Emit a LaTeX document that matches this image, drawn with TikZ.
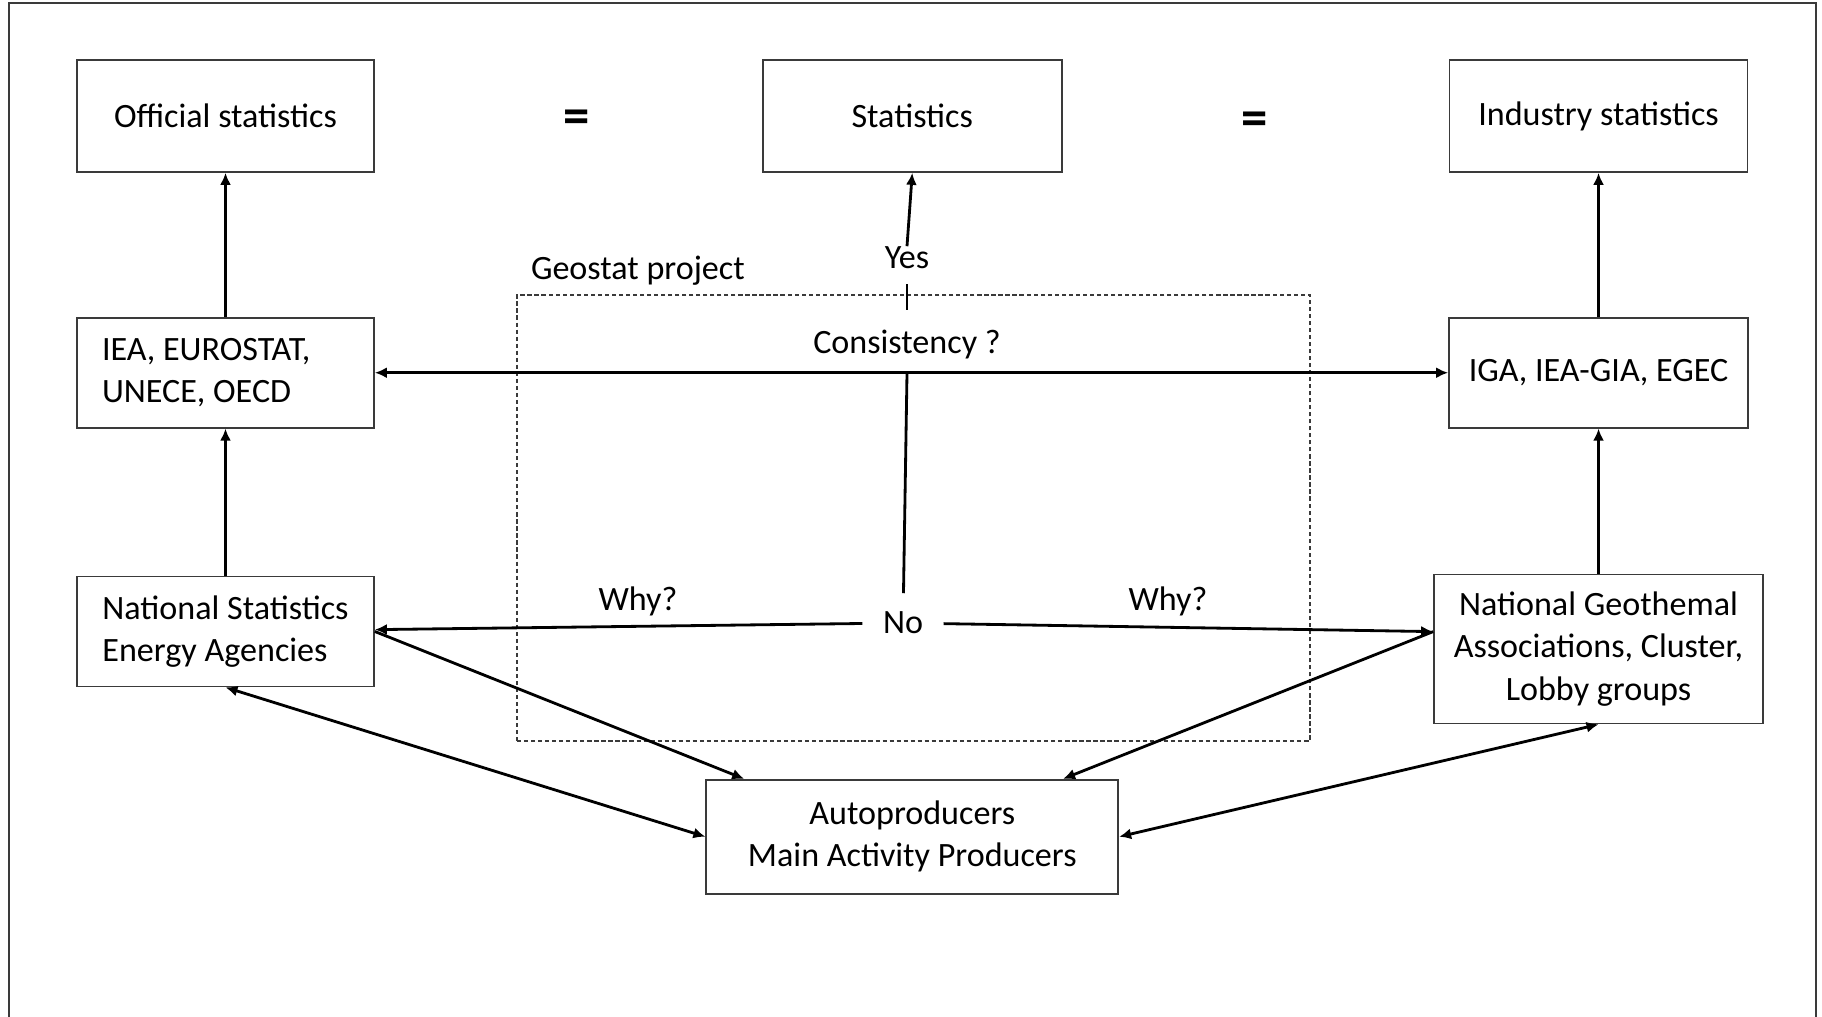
\documentclass[tikz,border=0pt]{standalone}
\usepackage{fontspec}
\setmainfont{Carlito}
\usetikzlibrary{%
  arrows.meta, positioning, shapes
}
\usepackage{xcolor}
\tikzstyle{sbox} = [%
  rectangle,
  draw=boxGrey,
  line width=0.5pt,
  minimum width=2.97cm,
  minimum height=1.12cm,
  align=center,
  inner sep=2pt,
  font=\fontsize{9.7}{12}\selectfont
]
\definecolor{boxGrey}{HTML}{3A3A3A}

\begin{document}
\frenchspacing
\begin{tikzpicture}[%
  link/.style={%
    -{Latex[length=1.2mm,width=1.1mm]},
    line width=0.8pt
  },
  twoway/.style={%
    {Latex[length=1.2mm,width=1.1mm]}-{Latex[length=1.2mm,width=1.1mm]},
    line width=0.8pt
  },
  every node/.style={%
    font=\fontsize{9.7}{12}\selectfont,
    text=black
  },
  lbl/.style={inner sep=1pt}
]
  \useasboundingbox (0,0) rectangle (18.22,10.17);
  \draw[boxGrey,line width=0.6pt] (0.09,-0.1) -- (0.09,10.14) -- (18.16,10.14) -- (18.16,-0.1);

  % Project frame
  \node[draw=boxGrey,dash pattern=on 1.2pt off 0.8pt,line width=0.4pt,minimum width=7.93cm,minimum height=4.46cm] (proj) at (9.135,4.99) {};
  \node[anchor=south west,inner xsep=0.14cm,inner ysep=0.08cm] (geostat) at (proj.north west) {Geostat project};

  % Nodes
  \node[sbox] (off) at (2.255,9.01) {Official statistics};
  \node[sbox,right=3.87cm of off,minimum width=2.99cm] (stat) {Statistics};
  \node[sbox,right=3.86cm of stat,minimum width=2.98cm] (ind) {Industry statistics};
  \node[sbox,below=1.44cm of off,align=flush left,text width=2.47cm,inner xsep=0.25cm,minimum height=1.10cm] (iea) {IEA, EUROSTAT,\\UNECE, OECD};
  \node[sbox,below=1.47cm of iea,align=left,minimum height=1.10cm] (nat) {National Statistics\\Energy Agencies};
  \node[sbox,below=1.44cm of ind,minimum width=2.99cm,minimum height=1.10cm] (iga) {IGA, IEA-GIA, EGEC};
  \node[sbox,below=1.45cm of iga,minimum width=3.29cm,minimum height=1.49cm] (geo) {National Geothemal\\Associations, Cluster,\\Lobby groups};
  \node[sbox,below=6.06cm of stat,minimum width=4.12cm,minimum height=1.14cm] (auto) {Autoproducers\\Main Activity Producers};

  % Labels
  \node (eq1) at (5.77,8.95) {\fontsize{15}{18}\selectfont\bfseries =};
  \node (eq2) at (12.55,8.93) {\fontsize{15}{18}\selectfont\bfseries =};
  \node[lbl,inner ysep=0pt] (yes) at (9.07,7.59) {Yes};
  \node[lbl,inner ysep=0.2cm] (cons) at (9.07,6.72) {Consistency ?};
  \node[inner xsep=0.2cm,inner ysep=0.18cm] (no) at (9.03,3.94) {No};
  \node (why1) at (6.38,4.16) {Why?};
  \node (why2) at (11.68,4.16) {Why?};

  % Upward edges
  \draw[link] (iea) -- (off);
  \draw[link] (nat) -- (iea);
  \draw[link] (iga) -- (ind);
  \draw[link] (geo) -- (iga);
  \draw[twoway] (iea) -- (iga);

  % Consistency check
  \coordinate (hub) at (cons |- iea.east);
  \draw[line width=0.8pt,shorten >=0.14cm] (cons) -- (yes);
  \draw[link] (yes.north) -- (stat.south);
  \draw[line width=0.8pt] (hub) -- (no);
  \draw[link] (no) -- (nat);
  \draw[link] (no) -- (geo.174);

  % Producer edges
  \draw[link] (nat.east) -- (auto.161);
  \draw[link] (geo.174) -- (auto.21);
  \draw[twoway] (nat.south) -- (auto.west);
  \draw[twoway] (geo.south) -- (auto.east);

\end{tikzpicture}
\end{document}
